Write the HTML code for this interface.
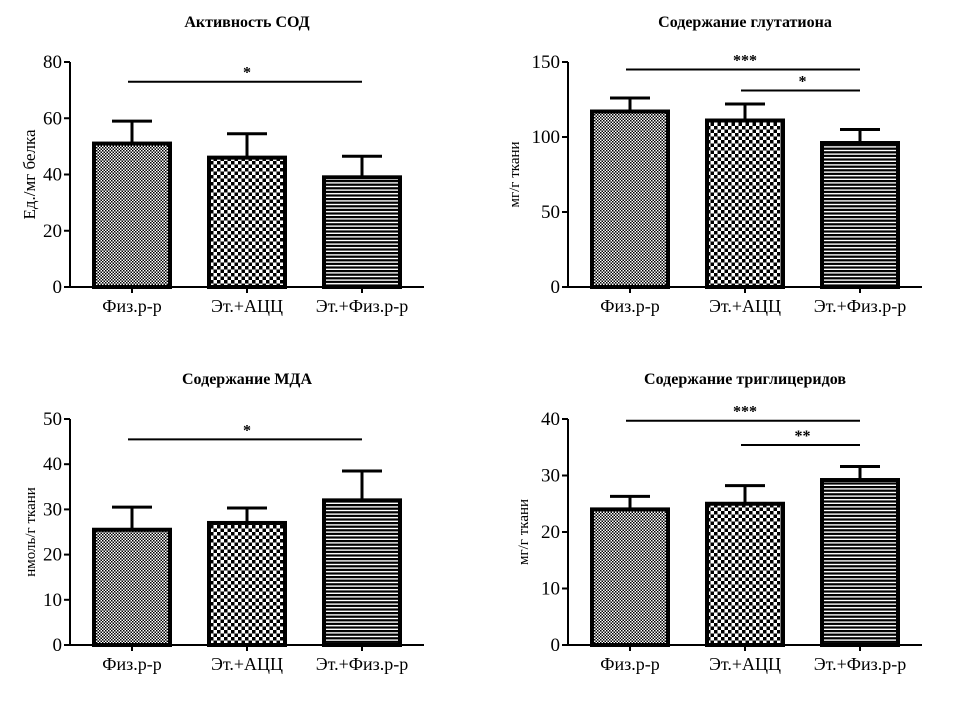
<!DOCTYPE html>
<html><head><meta charset="utf-8"><style>
html,body{margin:0;padding:0;background:#fff;}
svg text{font-family:"Liberation Serif",serif;fill:#000;}
</style></head><body>
<svg id="s" width="974" height="716" viewBox="0 0 974 716" xmlns="http://www.w3.org/2000/svg">
<defs>
<pattern id="p1" width="3" height="3" patternUnits="userSpaceOnUse"><rect width="3" height="3" fill="#fff"/><rect width="1.5" height="1.5" fill="#000"/><rect x="1.5" y="1.5" width="1.5" height="1.5" fill="#000"/></pattern>
<pattern id="p2" width="7" height="7" patternUnits="userSpaceOnUse"><rect width="7" height="7" fill="#fff"/><rect width="3.5" height="3.5" fill="#000"/><rect x="3.5" y="3.5" width="3.5" height="3.5" fill="#000"/></pattern>
<pattern id="p3" width="4" height="3.6" patternUnits="userSpaceOnUse"><rect width="4" height="3.6" fill="#000"/><rect y="2.2" width="4" height="1.4" fill="#fff"/></pattern>
</defs>
</svg>
<script>
const categories=["Физ.р-р","Эт.+АЦЦ","Эт.+Физ.р-р"];
const titles=["Активность СОД","Содержание глутатиона","Содержание МДА","Содержание триглицеридов"];
const yLabels=["Ед./мг белка","мг/г ткани","нмоль/г ткани","мг/г ткани"];
const means1=[51,46,39], errs1=[8,8.5,7.5];
const means2=[117,111,96], errs2=[9,11,9];
const means3=[25.5,27,32], errs3=[5,3.3,6.5];
const means4=[24,25,29.2], errs4=[2.3,3.2,2.4];
const ticks1=[0,20,40,60,80], ticks2=[0,50,100,150], ticks3=[0,10,20,30,40,50], ticks4=[0,10,20,30,40];
const sig1=[[0,2,"*",73]], sig2=[[0,2,"***",145],[1,2,"*",131]], sig3=[[0,2,"*",45.5]], sig4=[[0,2,"***",39.7],[1,2,"**",35.4]];
const panels=[
 {ox:70,top:62,bot:287,ly:35,fs:17,means:means1,errs:errs1,ticks:ticks1,sig:sig1},
 {ox:568,top:62,bot:287,ly:49,fs:15,means:means2,errs:errs2,ticks:ticks2,sig:sig2},
 {ox:70,top:419,bot:645,ly:35,fs:15,means:means3,errs:errs3,ticks:ticks3,sig:sig3},
 {ox:568,top:419,bot:645,ly:40,fs:15,means:means4,errs:errs4,ticks:ticks4,sig:sig4}];
const NS="http://www.w3.org/2000/svg", svg=document.getElementById('s');
function mk(t,a,p){const e=document.createElementNS(NS,t);for(const k in a)e.setAttribute(k,a[k]);(p||svg).appendChild(e);return e;}
const fills=["url(#p1)","url(#p2)","url(#p3)"];
panels.forEach((P,pi)=>{
 const g=mk('g',{});
 
 
 const max=P.ticks[P.ticks.length-1];
 const y=v=>P.bot-(v/max)*(P.bot-P.top);
 const xc=i=>P.ox+62+i*115;
 const t=mk('text',{x:P.ox+177,y:P.top-35,'text-anchor':'middle','font-size':16,'font-weight':'bold'},g);t.textContent=titles[pi];
 
 const yl=mk('text',{x:0,y:0,transform:`translate(${P.ox-P.ly},${(P.top+P.bot)/2}) rotate(-90)`,'text-anchor':'middle','font-size':P.fs},g);yl.textContent=yLabels[pi];
 
 mk('line',{x1:P.ox,y1:P.top,x2:P.ox,y2:P.bot,stroke:'#000','stroke-width':2},g);
 mk('line',{x1:P.ox,y1:P.bot,x2:P.ox+354,y2:P.bot,stroke:'#000','stroke-width':2},g);
 P.ticks.forEach(v=>{mk('line',{x1:P.ox-6,y1:y(v),x2:P.ox,y2:y(v),stroke:'#000','stroke-width':2},g);
  const tt=mk('text',{x:P.ox-8,y:y(v)+6,'text-anchor':'end','font-size':19},g);tt.textContent=v;
  });
 categories.forEach((c,i)=>{
  const x=xc(i);
  mk('line',{x1:x,y1:P.bot,x2:x,y2:P.bot+6,stroke:'#000','stroke-width':2},g);
  const r=mk('rect',{x:x-38,y:y(P.means[i]),width:76,height:P.bot-y(P.means[i]),fill:fills[i],stroke:'#000','stroke-width':4},g);
  
  mk('line',{x1:x,y1:y(P.means[i]),x2:x,y2:y(P.means[i]+P.errs[i]),stroke:'#000','stroke-width':3},g);
  mk('line',{x1:x-20,y1:y(P.means[i]+P.errs[i]),x2:x+20,y2:y(P.means[i]+P.errs[i]),stroke:'#000','stroke-width':3},g);
  const xt=mk('text',{x:x,y:P.bot+25,'text-anchor':'middle','font-size':18},g);xt.textContent=c;
  
 });
 P.sig.forEach(s=>{
  const yy=y(s[3]);
  const l=mk('line',{x1:xc(s[0])-4,y1:yy,x2:xc(s[1]),y2:yy,stroke:'#000','stroke-width':2},g);
  
  const st=mk('text',{x:(xc(s[0])+xc(s[1]))/2,y:yy-4,'text-anchor':'middle','font-size':16,'font-weight':'bold'},g);st.textContent=s[2];
  
 });
});
</script>
</body></html>
